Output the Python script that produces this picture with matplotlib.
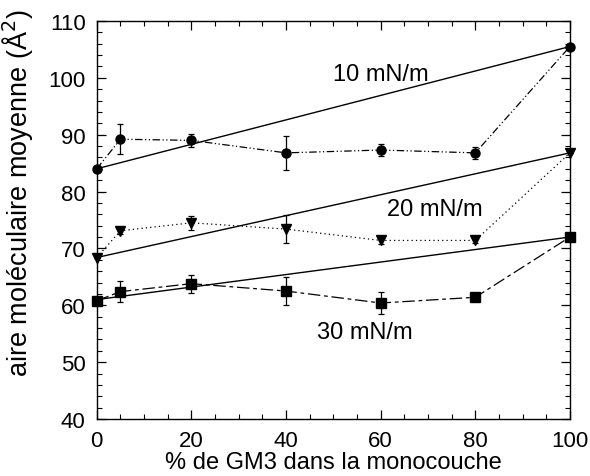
import matplotlib.pyplot as plt
import numpy as np

plt.rcParams["font.family"] = ["Liberation Sans", "DejaVu Sans"]

# % GM3 in the monolayer
gm3 = [0, 5, 20, 40, 60, 80, 100]

# mean molecular area (A^2) at each surface pressure
area_10 = [84.0, 89.2, 89.0, 86.8, 87.3, 86.8, 105.5]
err_10 = [0, 2.6, 1.2, 3.0, 1.1, 1.1, 0]
area_20 = [68.4, 73.1, 74.5, 73.4, 71.4, 71.4, 86.8]
err_20 = [0, 0.5, 1.2, 2.5, 0.6, 0.5, 0]
area_30 = [60.8, 62.4, 63.8, 62.5, 60.4, 61.4, 72.0]
err_30 = [0, 1.8, 1.6, 2.4, 1.9, 0, 0]

# ideal-mixing lines (pure components)
ideal_10 = [84.0, 105.5]
ideal_20 = [68.4, 86.8]
ideal_30 = [61.0, 72.0]

labels = ["10 mN/m", "20 mN/m", "30 mN/m"]
label_pos = [(50, 100.7), (61.3, 76.9), (46.5, 55.3)]

fig = plt.figure(figsize=(5.9, 4.77), dpi=100)
ax = fig.add_axes([0.164, 0.1195, 0.802, 0.8345])

series = [
    (area_10, err_10, ideal_10, "o", (0, (6, 2, 1, 2, 1, 2))),
    (area_20, err_20, ideal_20, "v", (0, (1, 2.5))),
    (area_30, err_30, ideal_30, "s", (0, (10, 3, 3, 3))),
]
for y, e, ideal, mk, ls in series:
    ax.plot([0, 100], ideal, color="black", lw=1.0)
    ax.errorbar(gm3, y, yerr=e, fmt=mk, color="black", ms=6.5,
                ecolor="black", elinewidth=0.9, capsize=2.5, capthick=0.9,
                ls=ls, lw=0.9, clip_on=False, zorder=3)

for text, (tx, ty) in zip(labels, label_pos):
    ax.text(tx, ty, text, fontsize=17, ha="left", va="center")

ax.set_xlim(0, 100)
ax.set_ylim(40, 110)
ax.set_xticks(np.arange(0, 101, 20))
ax.set_xticks(np.arange(0, 101, 5), minor=True)
ax.set_yticks(np.arange(40, 111, 10))
ax.set_yticks(np.arange(40, 111, 2), minor=True)
ax.tick_params(which="both", direction="in", top=True, right=True, labelsize=16)
ax.tick_params(which="major", length=6.5, width=0.9, pad=8)
ax.tick_params(which="minor", length=3.5, width=0.8)
for s in ax.spines.values():
    s.set_linewidth(1.0)

ax.set_xlabel("% de GM3 dans la monocouche", fontsize=17, labelpad=0)
ax.set_ylabel("aire moléculaire moyenne (Å$^2$)", fontsize=19.5)
ax.yaxis.set_label_coords(-0.13, 0.57)

fig.savefig("out.png", dpi=100)
